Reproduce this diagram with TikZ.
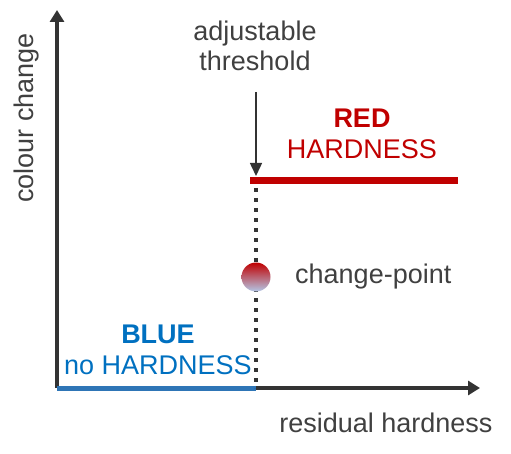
\documentclass[tikz,border=0pt]{standalone}
\usepackage{fontspec}
\setmainfont{Liberation Sans}
\usetikzlibrary{arrows.meta}
\definecolor{axisgray}{HTML}{333333}
\definecolor{txtgray}{HTML}{404040}
\definecolor{hardred}{HTML}{C00000}
\definecolor{hardblue}{HTML}{0070C0}
\definecolor{lineblue}{HTML}{2E75B6}
\definecolor{lightblue}{HTML}{B4C7E7}
\begin{document}
\begin{tikzpicture}[x=1pt,y=-1pt,
  lbl/.style={font=\fontsize{27}{31}\selectfont, text=txtgray, inner sep=0pt, align=center},
  axisline/.style={draw=axisgray, line width=4pt, -{Triangle[length=12pt,width=14pt]}},
  thinarrow/.style={draw=axisgray, line width=1.5pt, -{Triangle[length=13pt,width=12pt]}},
  dotline/.style={draw=axisgray, line width=4pt, dash pattern=on 4pt off 6pt}
]
\useasboundingbox (0,0) rectangle (511,454);
\coordinate (O) at (57,388);
\coordinate (ytop) at (57,10);
\coordinate (xend) at (480,388);
\draw[axisline] (O) -- (ytop);
\draw[axisline] (O) -- (xend);
% blue level
\coordinate (b1) at (57,388);
\coordinate (b2) at (256,388);
\draw[draw=lineblue, line width=5pt] (b1) -- (b2);
% red level
\coordinate (r1) at (250,181);
\coordinate (r2) at (458,181);
\draw[draw=hardred, line width=7pt] (r1) -- (r2);
% dotted threshold
\coordinate (d1) at (256,188);
\coordinate (d2) at (256,388);
\draw[dotline] (d1) -- (d2);
% change point
\node[circle, minimum size=29pt, inner sep=0pt, top color=hardred, bottom color=lightblue, draw=none] (cp) at (256,277) {};
% threshold arrow
\node[lbl] (thr) at (255,46) {adjustable\\[-1pt]threshold};
\coordinate (a1) at (256,92);
\coordinate (a2) at (256,176);
\draw[thinarrow] (a1) -- (a2);
% labels
\node[lbl, text=hardred] (red) at (362,134) {\textbf{RED}\\[0pt]HARDNESS};
\node[lbl, text=hardblue] (blue) at (158,350) {\textbf{BLUE}\\[0pt]no HARDNESS};
\node[lbl, anchor=west] (cpl) at (295,277) {change-point};
\node[lbl] (xl) at (386,423) {residual hardness};
\node[lbl, rotate=90] (yl) at (27,118) {colour change};
\end{tikzpicture}
\end{document}
